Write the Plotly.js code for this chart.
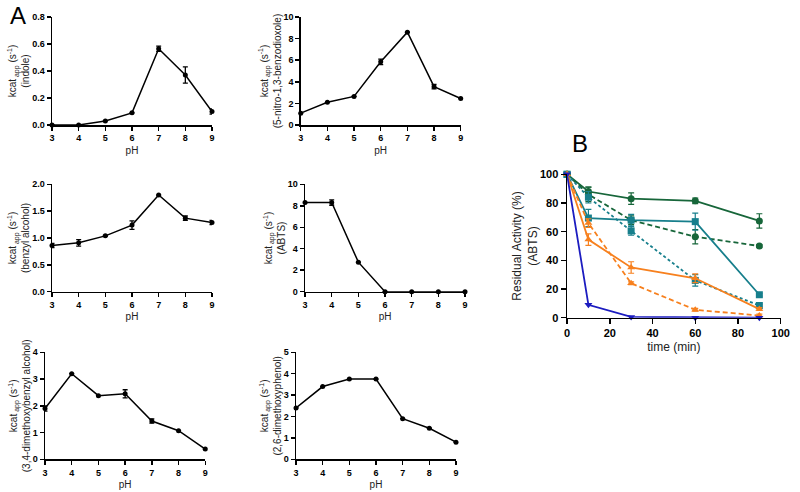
<!DOCTYPE html>
<html><head><meta charset="utf-8">
<script src="https://cdn.plot.ly/plotly-3.0.1.min.js"></script>
<style>body{margin:0;padding:0;background:#fff}#c{width:800px;height:492px}</style>
</head><body><div id="c"></div>
<script>
const pH = [3, 4, 5, 6, 7, 8, 9];
const indole = [0, 0, 0.03, 0.09, 0.565, 0.37, 0.1];
const indoleErr = [0, 0, 0, 0, 0.02, 0.06, 0.02];
const nitro = [1.1, 2.1, 2.65, 5.85, 8.6, 3.55, 2.45];
const nitroErr = [0, 0, 0, 0.25, 0, 0.2, 0];
const benzyl = [0.86, 0.91, 1.04, 1.24, 1.80, 1.37, 1.29];
const benzylErr = [0.04, 0.06, 0.01, 0.08, 0, 0.04, 0.04];
const abts = [8.3, 8.3, 2.75, 0, 0, 0, 0];
const abtsErr = [0, 0.25, 0, 0, 0, 0, 0];
const veratryl = [1.9, 3.2, 2.38, 2.45, 1.43, 1.07, 0.38];
const veratrylErr = [0.1, 0, 0, 0.15, 0.08, 0, 0];
const dmp = [2.4, 3.4, 3.75, 3.75, 1.9, 1.45, 0.8];
const dmpErr = [0, 0, 0, 0, 0, 0, 0];

const time = [0, 10, 30, 60, 90];
const greenSolid = [100, 88, 83, 81.5, 67.5];
const greenSolidErr = [0, 3, 4, 2, 5];
const greenDash = [100, 86, 68, 56.5, 50];
const greenDashErr = [0, 5, 3, 5, 1];
const tealSolid = [100, 69.5, 68, 67, 16];
const tealSolidErr = [0, 6, 4, 6, 1];
const tealDash = [100, 84, 60.5, 26, 8.5];
const tealDashErr = [0, 4, 3, 4, 1];
const orangeSolid = [100, 54.5, 35, 27.5, 6];
const orangeSolidErr = [0, 4, 4, 3, 1];
const orangeDash = [100, 66, 24, 5.5, 1.5];
const orangeDashErr = [0, 3, 1, 1, 1];
const blueSolid = [100, 9, 0.5, 0, 0];

const FONT = 'Liberation Sans, Arial, sans-serif';
const panels = [
  {y: indole, e: indoleErr, sub: '(indole)', range: [0, 0.8], dtick: 0.2, fmt: '.1f', xd: [0.065, 0.265], yd: [0.7459, 0.9654]},
  {y: nitro, e: nitroErr, sub: '(5-nitro-1,3-benzodioxole)', range: [0, 10], dtick: 2, fmt: 'd', xd: [0.3759, 0.5759], yd: [0.7459, 0.9654]},
  {y: benzyl, e: benzylErr, sub: '(benzyl alcohol)', range: [0, 2], dtick: 0.5, fmt: '.1f', xd: [0.065, 0.265], yd: [0.4071, 0.6254]},
  {y: abts, e: abtsErr, sub: '(ABTS)', range: [0, 10], dtick: 2, fmt: 'd', xd: [0.3813, 0.5813], yd: [0.4071, 0.6254]},
  {y: veratryl, e: veratrylErr, sub: '(3,4-dimethoxybenzyl alcohol)', range: [0, 4], dtick: 1, fmt: 'd', xd: [0.05625, 0.2566], yd: [0.0665, 0.2839]},
  {y: dmp, e: dmpErr, sub: '(2,6-dimethoxyphenol)', range: [0, 5], dtick: 1, fmt: 'd', xd: [0.37, 0.57], yd: [0.0665, 0.2839]}
];

const data = [];
const layout = {
  width: 800, height: 492, margin: {l: 0, r: 0, t: 0, b: 0},
  paper_bgcolor: '#fff', plot_bgcolor: 'rgba(0,0,0,0)', showlegend: false,
  font: {family: FONT, color: '#000', size: 10},
  annotations: [
    {text: 'A', x: 0.01, y: 1.0, xref: 'paper', yref: 'paper', xanchor: 'left', yanchor: 'top', showarrow: false, font: {size: 24, family: FONT, color: '#000', weight: 'normal'}},
    {text: 'B', x: 0.712, y: 0.74, xref: 'paper', yref: 'paper', xanchor: 'left', yanchor: 'top', showarrow: false, font: {size: 24, family: FONT, color: '#000', weight: 'normal'}}
  ]
};

function axCommon() {
  return {showline: true, linecolor: '#000', linewidth: 1.5, ticks: 'outside', ticklen: 4, tickwidth: 1.5, tickcolor: '#000',
    showgrid: false, zeroline: false, tickfont: {size: 9, family: FONT, color: '#000', weight: 'bold'}, fixedrange: true};
}
function tf(sz) { return {size: sz, family: FONT, color: '#222', weight: 'normal'}; }

panels.forEach((p, i) => {
  const n = i + 1;
  const xs = n === 1 ? 'x' : 'x' + n, ys = n === 1 ? 'y' : 'y' + n;
  data.push({x: pH, y: p.y, xaxis: xs, yaxis: ys, type: 'scatter', mode: 'lines+markers', cliponaxis: false,
    line: {color: '#000', width: 1.5}, marker: {color: '#000', size: 5, symbol: 'circle'},
    error_y: {type: 'data', array: p.e, visible: true, color: '#000', thickness: 1.3, width: 2.5}});
  const xa = Object.assign(axCommon(), {domain: p.xd, anchor: ys, range: [3, 9], dtick: 1, tick0: 3,
    title: {text: 'pH', font: tf(10), standoff: 4}});
  const ya = Object.assign(axCommon(), {domain: p.yd, anchor: xs, range: p.range, dtick: p.dtick, tick0: 0, tickformat: p.fmt,
    title: {text: 'kcat<sub> app</sub> (s<sup>-1</sup>)<br>' + p.sub, font: tf(10), standoff: 0}});
  layout['xaxis' + (n === 1 ? '' : n)] = xa;
  layout['yaxis' + (n === 1 ? '' : n)] = ya;
});

const G = '#17663a', T = '#177f8c', O = '#f7801e', B = '#1c1cc0';
const bseries = [
  {y: greenSolid, e: greenSolidErr, c: G, d: 'solid', s: 'circle'},
  {y: greenDash, e: greenDashErr, c: G, d: '5px,3px', s: 'circle'},
  {y: tealSolid, e: tealSolidErr, c: T, d: 'solid', s: 'square'},
  {y: tealDash, e: tealDashErr, c: T, d: '3px,2.5px', s: 'square'},
  {y: orangeSolid, e: orangeSolidErr, c: O, d: 'solid', s: 'triangle-up'},
  {y: orangeDash, e: orangeDashErr, c: O, d: '5px,3px', s: 'triangle-up'},
  {y: blueSolid, e: null, c: B, d: 'solid', s: 'triangle-down'}
];
bseries.forEach(s => {
  const tr = {x: time, y: s.y, xaxis: 'x7', yaxis: 'y7', type: 'scatter', mode: 'lines+markers', cliponaxis: false,
    line: {color: s.c, width: 1.8, dash: s.d}, marker: {color: s.c, size: 7, symbol: s.s}};
  if (s.e) tr.error_y = {type: 'data', array: s.e, visible: true, color: s.c, thickness: 1.2, width: 3};
  data.push(tr);
});
layout.xaxis7 = Object.assign(axCommon(), {domain: [0.7088, 0.9759], anchor: 'y7', range: [0, 100], dtick: 20, tick0: 0, ticklen: 5,
  tickfont: {size: 11, family: FONT, color: '#000', weight: 'bold'},
  title: {text: 'time (min)', font: tf(12), standoff: 4}});
layout.yaxis7 = Object.assign(axCommon(), {domain: [0.3543, 0.6457], anchor: 'x7', range: [0, 100], dtick: 20, tick0: 0, ticklen: 5,
  tickfont: {size: 11, family: FONT, color: '#000', weight: 'bold'},
  title: {text: 'Residual Activity (%)<br>(ABTS)', font: tf(12), standoff: 0}});

Plotly.newPlot('c', data, layout, {staticPlot: true});
</script></body></html>
